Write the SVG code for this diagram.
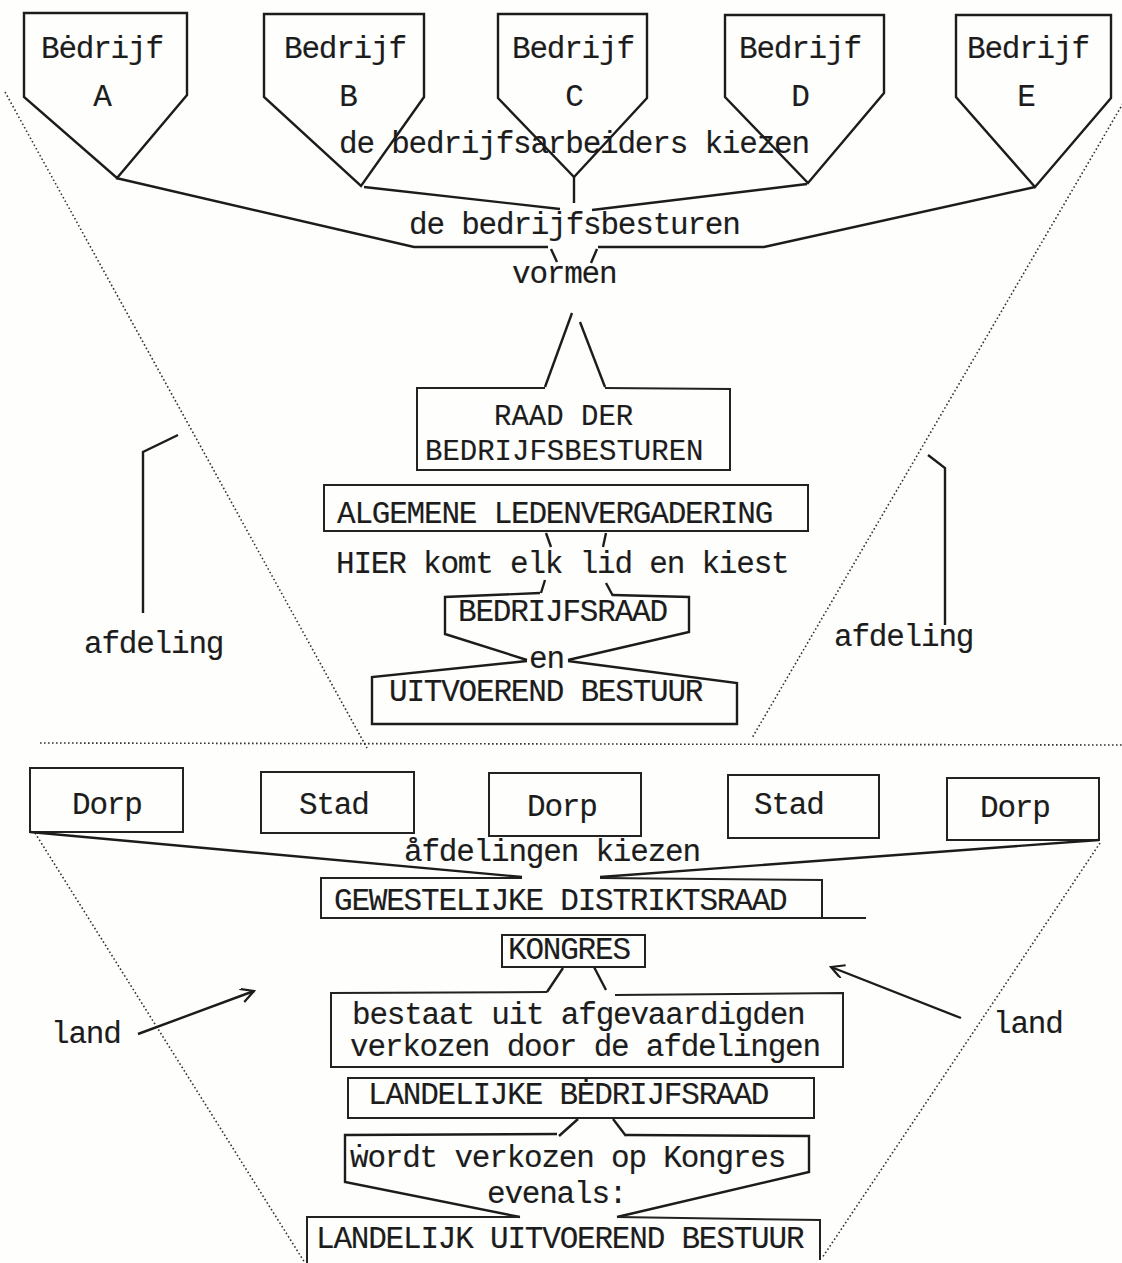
<svg xmlns="http://www.w3.org/2000/svg" width="1122" height="1263" viewBox="0 0 1122 1263">
<defs>
<style>
.t{font-family:"Liberation Mono","DejaVu Sans Mono",monospace;font-size:31px;letter-spacing:-1.2px;fill:#1c1c1c;stroke:#1c1c1c;stroke-width:0.15}
.t2{font-size:29px;letter-spacing:0px}
.tm{text-anchor:middle}
.s{fill:none;stroke:#1c1c1c;stroke-width:2.4;stroke-linejoin:miter;stroke-linecap:butt}
.b{fill:none;stroke:#222;stroke-width:2}
.d{fill:none;stroke:#333;stroke-width:1.6;stroke-dasharray:1.6 2.4}
</style>
<marker id="ah" markerUnits="userSpaceOnUse" markerWidth="20" markerHeight="20" refX="14" refY="7" orient="auto">
<path d="M1,0 L14,7 L1,14" fill="none" stroke="#1c1c1c" stroke-width="2.2"/>
</marker>
</defs>
<rect x="0" y="0" width="1122" height="1263" fill="#fefefc"/>

<g id="guides">
<path class="d" d="M5,92 L367,748"/>
<path class="d" d="M1125,100 L752,738"/>
<path class="d" d="M40,743 L1122,745"/>
<path class="d" d="M35,833 L305,1263"/>
<path class="d" d="M1100,843 L822,1258"/>
</g>

<g id="bedrijf-a">
<path class="s" d="M24,97 L24,13 L187,13 L187,95 L117,178 Z"/>
<text class="t" x="41" y="58">B&#279;drijf</text>
<text class="t tm" x="102" y="106">A</text>
</g>
<g id="bedrijf-b">
<path class="s" d="M264,97 L264,14 L424,14 L424,97 L361,186 Z"/>
<text class="t" x="284" y="58">Bedrijf</text>
<text class="t tm" x="348" y="106">B</text>
</g>
<g id="bedrijf-c">
<path class="s" d="M498,98 L498,14 L647,14 L647,98 L574,177 Z"/>
<text class="t" x="512" y="58">Bedrijf</text>
<text class="t tm" x="574" y="106">C</text>
</g>
<g id="bedrijf-d">
<path class="s" d="M725,97 L725,15 L884,15 L884,93 L808,183 Z"/>
<text class="t" x="739" y="58">Bedrijf</text>
<text class="t tm" x="800" y="106">D</text>
</g>
<g id="bedrijf-e">
<path class="s" d="M956,97 L956,15 L1111,15 L1111,98 L1035,187 Z"/>
<text class="t" x="967" y="58">Bedrijf</text>
<text class="t tm" x="1026" y="106">E</text>
</g>

<g id="label-arbeiders"><text class="t" x="339" y="153">de bedrijfsarbeiders kiezen</text></g>
<g id="label-besturen"><text class="t" x="409" y="234">de bedrijfsbesturen</text></g>
<g id="label-vormen"><text class="t" x="512" y="283">vormen</text></g>

<g id="raad">
<path class="b" d="M545,388 L417,388 L417,470 L730,470 L730,389 L605,388"/>
<text class="t t2" x="494" y="425">RAAD DER</text>
<text class="t t2" x="425" y="460">BEDRIJFSBESTUREN</text>
</g>
<g id="algemene">
<rect class="b" x="324" y="485" width="484" height="46"/>
<text class="t" x="337" y="523">ALGEMENE LEDENVERGADERING</text>
</g>
<g id="label-hier"><text class="t" x="336" y="573">HIER komt elk lid en kiest</text></g>
<g id="bedrijfsraad">
<path class="s" d="M540,593 L445,597 L445,634 L527,660"/>
<path class="s" d="M613,595 L689,597 L689,632 L568,660"/>
<text class="t" x="458" y="621">BEDRIJFSRAAD</text>
</g>
<g id="label-en"><text class="t" x="529" y="668">en</text></g>
<g id="uitvoerend">
<path class="s" d="M527,661 L372,677 L372,724 L737,724 L737,683 L568,661"/>
<text class="t" x="389" y="701">UITVOEREND BESTUUR</text>
</g>
<g id="afdeling-left">
<text class="t" x="84" y="653">afdeling</text>
</g>
<g id="afdeling-right">
<text class="t" x="834" y="646">afdeling</text>
</g>

<g id="dorp-1"><rect class="b" x="30" y="768" width="153" height="64"/><text class="t" x="72" y="814">Dorp</text></g>
<g id="stad-1"><rect class="b" x="261" y="772" width="153" height="61"/><text class="t" x="299" y="814">Stad</text></g>
<g id="dorp-2"><rect class="b" x="489" y="773" width="152" height="63"/><text class="t" x="527" y="816">Dorp</text></g>
<g id="stad-2"><rect class="b" x="728" y="775" width="151" height="63"/><text class="t" x="754" y="814">Stad</text></g>
<g id="dorp-3"><rect class="b" x="947" y="778" width="152" height="62"/><text class="t" x="980" y="817">Dorp</text></g>

<g id="label-afdelingen"><text class="t" x="404" y="861">&#229;fdelingen kiezen</text></g>
<g id="gewestelijke">
<path class="b" d="M522,878 L321,878 L321,918 L866,918"/>
<path class="b" d="M600,878 L822,880 L822,918"/>
<text class="t" x="334" y="910">GEWESTELIJKE DISTRIKTSRAAD</text>
</g>
<g id="kongres">
<rect class="b" x="502" y="935" width="143" height="32"/>
<text class="t" x="508" y="959">KONGRES</text>
</g>
<g id="bestaat">
<path class="b" d="M547,992 L331,993 L331,1067 L843,1067 L843,993 L615,995"/>
<text class="t" x="352" y="1024">bestaat uit afgevaardigden</text>
<text class="t" x="350" y="1056">verkozen door de afdelingen</text>
</g>
<g id="landelijke-bedrijfsraad">
<rect class="b" x="348" y="1078" width="466" height="40"/>
<text class="t" x="368" y="1104">LANDELIJKE B&#278;DRIJFSRAAD</text>
</g>
<g id="wordt">
<path class="s" d="M557,1134 L345,1135 L345,1182 L520,1217"/>
<path class="s" d="M626,1135 L809,1136 L809,1172 L617,1217"/>
<text class="t" x="350" y="1167">&#7815;ordt verkozen op Kongres</text>
<text class="t" x="487" y="1203">evenals:</text>
</g>
<g id="landelijk-uitvoerend">
<path class="b" d="M520,1217 L307,1217 L307,1263"/>
<path class="b" d="M617,1217 L820,1220 L820,1260"/>
<text class="t" x="316" y="1248">LANDELIJK UITVOEREND BESTUUR</text>
</g>
<g id="land-left"><text class="t" x="51" y="1043">land</text></g>
<g id="land-right"><text class="t" x="993" y="1033">land</text></g>

<g id="connectors">
<path class="s" d="M116,178 L414,247 L548,247"/>
<path class="s" d="M551,249 L557,262"/>
<path class="s" d="M1035,187 L764,247 L598,247"/>
<path class="s" d="M597,249 L591,263"/>
<path class="s" d="M364,187 L560,209"/>
<path class="s" d="M807,184 L592,210"/>
<path class="s" d="M574,177 L574,203"/>
<path class="s" d="M572,313 L545,387"/>
<path class="s" d="M580,322 L605,387"/>
<path class="s" d="M546,533 L551,547"/>
<path class="s" d="M606,533 L603,547"/>
<path class="s" d="M545,580 L541,593"/>
<path class="s" d="M606,583 L613,596"/>
<path class="s" d="M178,435 L143,452 L143,613"/>
<path class="s" d="M928,455 L945,468 L945,625"/>
<path class="s" d="M30,832 L522,877"/>
<path class="s" d="M1099,840 L600,877"/>
<path class="s" d="M563,968 L547,992"/>
<path class="s" d="M594,967 L606,990"/>
<path class="s" d="M578,1119 L559,1136"/>
<path class="s" d="M613,1119 L626,1136"/>
<path class="s" d="M138,1034 L254,991" marker-end="url(#ah)"/>
<path class="s" d="M961,1018 L831,967" marker-end="url(#ah)"/>
</g>
</svg>
